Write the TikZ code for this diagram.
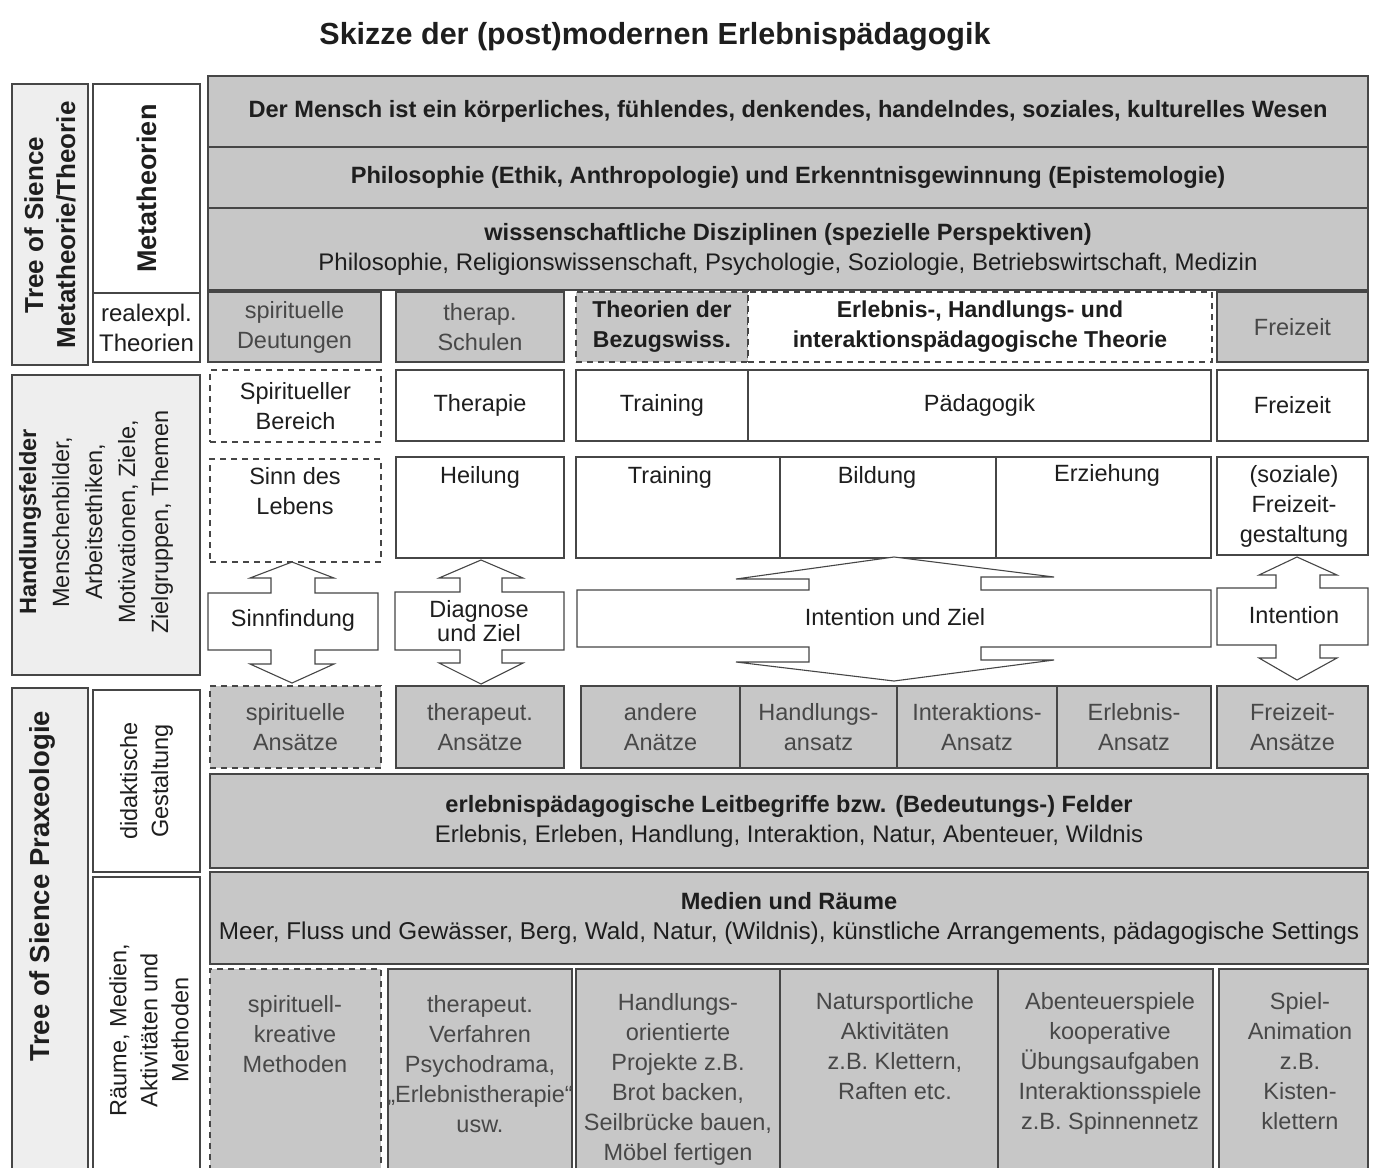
\documentclass[tikz,border=0pt]{standalone}
\usepackage{fontspec}
\setmainfont{Liberation Sans}
\usetikzlibrary{calc}
\definecolor{boxgrey}{RGB}{199,199,199}
\definecolor{lightA}{RGB}{238,238,238}
\definecolor{lncol}{RGB}{70,70,70}
\definecolor{txdark}{RGB}{30,30,30}
\definecolor{txgrey}{RGB}{72,72,72}
\tikzset{
  basebox/.style={draw=lncol, line width=1.1pt, inner sep=0pt, outer sep=0pt, align=center, text=txdark, font=\fontsize{23.5}{30}\selectfont},
  greybox/.style={basebox, fill=boxgrey, text=txgrey},
  hdrow/.style={basebox, fill=boxgrey, font=\fontsize{23.6}{30}\selectfont\bfseries},
  whitebox/.style={basebox, fill=white},
  leftA/.style={basebox, fill=lightA},
  dashedbox/.style={dash pattern=on 6pt off 5pt},
  lbl/.style={inner sep=0pt, align=center, text=txdark, font=\fontsize{23.5}{30}\selectfont},
  glbl/.style={lbl, text=txgrey},
  arrowshape/.style={draw=lncol, line width=1.1pt, fill=white, line join=miter},
}
\newcommand\cell[7]{\node[#6, anchor=north west, minimum width={(#4)-(#2)}, minimum height={(#5)-(#3)}] (#1) at (#2,#3) {#7};}
\begin{document}
\begin{tikzpicture}[x=1pt,y=-1pt]
\clip (0,0) rectangle (1378,1167);
\fill[white] (0,0) rectangle (1378,1167);

% title
\node[inner sep=0pt, text=txdark, font=\fontsize{30.5}{34}\selectfont\bfseries] (title) at (655,37) {Skizze der (post)modernen Erlebnispädagogik};

% ---------- left column ----------
\cell{la1}{12}{84}{88}{365}{leftA}{}
\node[lbl, rotate=90, font=\fontsize{26}{32}\selectfont\bfseries] (la1t) at (50,225) {Tree of Sience\\Metatheorie/Theorie};
\cell{lb1}{93}{84}{200}{293}{whitebox}{}
\node[lbl, rotate=90, font=\fontsize{27}{32}\selectfont\bfseries] (lb1t) at (lb1) {Metatheorien};
\cell{lb2}{93}{293}{200}{362}{whitebox, font=\fontsize{24}{30}\selectfont}{realexpl.\\Theorien}
\cell{lh}{12}{375}{200}{675}{leftA}{}
\node[lbl, rotate=90, font=\fontsize{23.5}{33}\selectfont] (lht) at (96,522) {{\bfseries Handlungsfelder}\\Menschenbilder,\\Arbeitsethiken,\\Motivationen, Ziele,\\Zielgruppen, Themen};
\cell{la2}{12}{688}{88}{1190}{leftA}{}
\node[lbl, rotate=90, font=\fontsize{27.5}{32}\selectfont\bfseries] (la2t) at (42,886) {Tree of Sience Praxeologie};
\cell{lb3}{93}{690}{200}{872}{whitebox}{}
\node[lbl, rotate=90, font=\fontsize{23.5}{31}\selectfont] (lb3t) at (lb3) {didaktische\\Gestaltung};
\cell{lb4}{93}{877}{200}{1190}{whitebox}{}
\node[lbl, rotate=90, font=\fontsize{23.5}{31}\selectfont] (lb4t) at (149,1030) {Räume, Medien,\\Aktivitäten und\\Methoden};

% ---------- metatheory rows ----------
\cell{r1}{208}{76}{1368}{147}{hdrow}{Der Mensch ist ein körperliches, fühlendes, denkendes, handelndes, soziales, kulturelles Wesen}
\cell{r2}{208}{147}{1368}{208}{hdrow}{Philosophie (Ethik, Anthropologie) und Erkenntnisgewinnung (Epistemologie)}
\cell{r3}{208}{208}{1368}{290}{greybox, text=txdark, font=\fontsize{24}{30}\selectfont}{{\bfseries\fontsize{23.6}{30}\selectfont wissenschaftliche Disziplinen (spezielle Perspektiven)}\\Philosophie, Religionswissenschaft, Psychologie, Soziologie, Betriebswirtschaft, Medizin}

% ---------- row 4: realexpl. Theorien ----------
\cell{t1}{208}{292}{381}{362}{greybox}{spirituelle\\Deutungen}
\cell{t2}{396}{292}{564}{362}{greybox}{therap.\\Schulen}
\cell{t3}{576}{292}{748}{362}{greybox, dashedbox, text=txdark, font=\fontsize{23}{30}\selectfont\bfseries}{Theorien der\\Bezugswiss.}
\cell{t4}{748}{292}{1212}{362}{whitebox, dashedbox, font=\fontsize{23}{30}\selectfont\bfseries}{Erlebnis-, Handlungs- und\\interaktionspädagogische Theorie}
\cell{t5}{1217}{292}{1368}{362}{greybox}{Freizeit}

% ---------- row 5 ----------
\cell{f1}{210}{370}{381}{442}{whitebox, dashedbox}{Spiritueller\\Bereich}
\cell{f2}{396}{370}{564}{441}{whitebox}{Therapie}
\cell{f3}{576}{370}{748}{441}{whitebox}{Training}
\cell{f4}{748}{370}{1211}{441}{whitebox}{Pädagogik}
\cell{f5}{1217}{370}{1368}{441}{whitebox}{Freizeit}

% ---------- row 6 ----------
\cell{g1}{210}{459}{381}{562}{whitebox, dashedbox}{}
\cell{g2}{396}{457}{564}{558}{whitebox}{}
\cell{g3}{576}{457}{780}{558}{whitebox}{}
\cell{g4}{780}{457}{996}{558}{whitebox}{}
\cell{g5}{996}{457}{1211}{558}{whitebox}{}
\cell{g6}{1217}{457}{1368}{555}{whitebox}{}
\node[lbl, anchor=north] (g1t) at (295,467) {Sinn des\\Lebens};
\node[lbl, anchor=north] (g2t) at (480,466) {Heilung};
\node[lbl, anchor=north] (g3t) at (670,466) {Training};
\node[lbl, anchor=north] (g4t) at (877,466) {Bildung};
\node[lbl, anchor=north] (g5t) at (1107,464) {Erziehung};
\node[lbl, anchor=north] (g6t) at (1294,465) {(soziale)\\Freizeit-\\gestaltung};

% ---------- double arrows ----------
\draw[arrowshape] (208,593) -- (271,593) -- (271,578) -- (250,578) -- (292,562) -- (334,578) -- (315,578) -- (315,593) -- (378,593) -- (378,650) -- (315,650) -- (315,664) -- (334,664) -- (292,683) -- (250,664) -- (271,664) -- (271,650) -- (208,650) -- cycle;
\node[lbl] (a1t) at (293,620) {Sinnfindung};
\draw[arrowshape] (395,592) -- (460,592) -- (460,578) -- (439,578) -- (481,560) -- (523,578) -- (502,578) -- (502,592) -- (564,592) -- (564,650) -- (502,650) -- (502,663) -- (523,663) -- (481,684) -- (439,663) -- (460,663) -- (460,650) -- (395,650) -- cycle;
\node[lbl, font=\fontsize{23.5}{24}\selectfont] (a2t) at (479,621) {Diagnose\\und Ziel};
\draw[arrowshape] (577,590) -- (809,590) -- (809,579) -- (736,579) -- (894,557) -- (1054,577) -- (981,577) -- (981,590) -- (1211,590) -- (1211,647) -- (981,647) -- (981,660) -- (1054,660) -- (894,681) -- (736,662) -- (809,662) -- (809,647) -- (577,647) -- cycle;
\node[lbl] (a3t) at (895,617) {Intention und Ziel};
\draw[arrowshape] (1217,588) -- (1276,588) -- (1276,575) -- (1259,575) -- (1297,557) -- (1337,575) -- (1320,575) -- (1320,588) -- (1368,588) -- (1368,645) -- (1320,645) -- (1320,658) -- (1337,658) -- (1297,680) -- (1259,658) -- (1276,658) -- (1276,645) -- (1217,645) -- cycle;
\node[lbl] (a4t) at (1294,615) {Intention};

% ---------- row 7: Ansätze ----------
\cell{p1}{210}{686}{381}{768}{greybox, dashedbox}{spirituelle\\Ansätze}
\cell{p2}{396}{686}{564}{768}{greybox}{therapeut.\\Ansätze}
\cell{p3}{581}{686}{740}{768}{greybox}{andere\\Anätze}
\cell{p4}{740}{686}{897}{768}{greybox}{Handlungs-\\ansatz}
\cell{p5}{897}{686}{1057}{768}{greybox}{Interaktions-\\Ansatz}
\cell{p6}{1057}{686}{1211}{768}{greybox}{Erlebnis-\\Ansatz}
\cell{p7}{1217}{686}{1368}{768}{greybox}{Freizeit-\\Ansätze}

% ---------- rows 8, 9 ----------
\cell{r8}{210}{774}{1368}{868}{greybox, text=txdark, font=\fontsize{24}{30}\selectfont}{{\bfseries\fontsize{23.6}{30}\selectfont erlebnispädagogische Leitbegriffe bzw. (Bedeutungs-) Felder}\\Erlebnis, Erleben, Handlung, Interaktion, Natur, Abenteuer, Wildnis}
\cell{r9}{210}{872}{1368}{964}{greybox, text=txdark, font=\fontsize{24.3}{30}\selectfont}{{\bfseries\fontsize{23.6}{30}\selectfont Medien und Räume}\\Meer, Fluss und Gewässer, Berg, Wald, Natur, (Wildnis), künstliche Arrangements, pädagogische Settings}

% ---------- row 10: Methoden ----------
\cell{m1}{210}{969}{381}{1190}{greybox, dashedbox}{}
\cell{m2}{388}{969}{572}{1190}{greybox}{}
\cell{m3}{576}{969}{780}{1190}{greybox}{}
\cell{m4}{780}{969}{998}{1190}{greybox}{}
\cell{m5}{998}{969}{1213}{1190}{greybox}{}
\cell{m6}{1219}{969}{1368}{1190}{greybox}{}
\node[glbl, anchor=north] (m1t) at (295,995) {spirituell-\\kreative\\Methoden};
\node[glbl, anchor=north] (m2t) at (480,995) {therapeut.\\Verfahren\\Psychodrama,\\„Erlebnistherapie“\\usw.};
\node[glbl, anchor=north] (m3t) at (678,993) {Handlungs-\\orientierte\\Projekte z.B.\\Brot backen,\\Seilbrücke bauen,\\Möbel fertigen};
\node[glbl, anchor=north] (m4t) at (895,992) {Natursportliche\\Aktivitäten\\z.B. Klettern,\\Raften etc.};
\node[glbl, anchor=north] (m5t) at (1110,992) {Abenteuerspiele\\kooperative\\Übungsaufgaben\\Interaktionsspiele\\z.B. Spinnennetz};
\node[glbl, anchor=north] (m6t) at (1300,992) {Spiel-\\Animation\\z.B.\\Kisten-\\klettern};
\end{tikzpicture}
\end{document}
